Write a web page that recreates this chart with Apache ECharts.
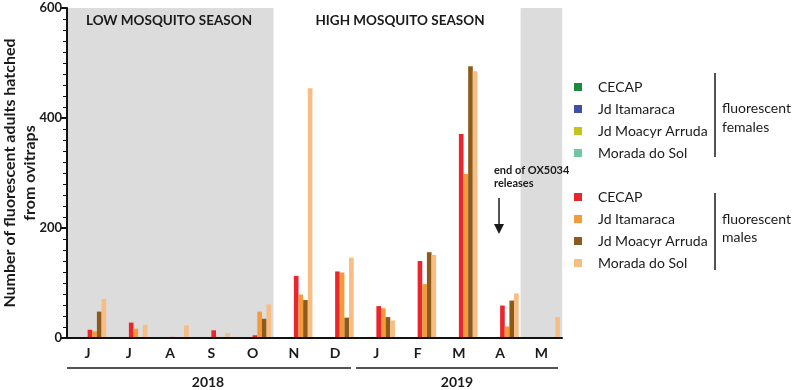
<!DOCTYPE html>
<html>
<head>
<meta charset="utf-8">
<script src="https://cdn.jsdelivr.net/npm/echarts@6/dist/echarts.min.js"></script>
<style>
  html, body { margin: 0; padding: 0; background: #fff; }
  #chart { width: 796px; height: 390px; }
</style>
</head>
<body>
<div id="chart"></div>
<script>
// months Jun 2018 .. May 2019, shown as their first letter
const months = ["Jun 2018", "Jul 2018", "Aug 2018", "Sep 2018", "Oct 2018", "Nov 2018",
  "Dec 2018", "Jan 2019", "Feb 2019", "Mar 2019", "Apr 2019", "May 2019"];
const sites = ["CECAP", "Jd Itamaraca", "Jd Moacyr Arruda", "Morada do Sol"];

// fluorescent females (none visible)
const femaleCecap = [0, 0, 0, 0, 0, 0, 0, 0, 0, 0, 0, 0];
const femaleItamaraca = [0, 0, 0, 0, 0, 0, 0, 0, 0, 0, 0, 0];
const femaleMoacyr = [0, 0, 0, 0, 0, 0, 0, 0, 0, 0, 0, 0];
const femaleMorada = [0, 0, 0, 0, 0, 0, 0, 0, 0, 0, 0, 0];

// fluorescent males
const maleCecap = [15, 28, 2, 14, 5, 113, 121, 58, 140, 371, 59, 0];
const maleItamaraca = [12, 17, 0, 2, 48, 79, 119, 54, 98, 298, 21, 0];
const maleMoacyr = [48, 0, 0, 0, 35, 69, 37, 38, 156, 494, 68, 0];
const maleMorada = [71, 24, 23, 9, 61, 454, 146, 32, 151, 485, 81, 38];

// low mosquito season shading (full height of the axis)
const lowSeason = [600, 600, 600, 600, 600, 0, 0, 0, 0, 0, 0, 600];

const yTicks = { min: 0, max: 600, interval: 200 };

const femaleColors = ["#1b8a3c", "#3e4fa6", "#c4c41c", "#6ec6a2"];
const maleColors = ["#e8262b", "#f59a3b", "#8c5b1c", "#f7bd82"];
const femaleData = [femaleCecap, femaleItamaraca, femaleMoacyr, femaleMorada];
const maleData = [maleCecap, maleItamaraca, maleMoacyr, maleMorada];

const font = "Lato";
const femaleNames = sites.map((s) => "f:" + s);
const maleNames = sites.map((s) => "m:" + s);

const series = [
  {
    name: "shade",
    type: "bar",
    xAxisIndex: 1,
    data: lowSeason,
    barWidth: "101%",
    silent: true,
    z: 1,
    itemStyle: { color: "#dcdcdc", borderColor: "#dcdcdc", borderWidth: 1 },
  },
];
femaleNames.forEach((n, i) => {
  series.push({
    name: n,
    type: "bar",
    data: femaleData[i],
    barGap: "0%",
    barCategoryGap: "10%",
    itemStyle: { color: femaleColors[i] },
  });
});
maleNames.forEach((n, i) => {
  series.push({
    name: n,
    type: "bar",
    data: maleData[i],
    barGap: "0%",
    barCategoryGap: "10%",
    itemStyle: { color: maleColors[i] },
  });
});

const legendBase = {
  orient: "vertical",
  left: 569,
  itemWidth: 8,
  itemHeight: 8,
  itemGap: 6,
  icon: "rect",
  selectedMode: false,
  formatter: (n) => n.slice(2),
  textStyle: {
    fontFamily: font,
    fontSize: 14,
    color: "#1a1a1a",
    lineHeight: 16,
    padding: [0, 0, 0, 11],
  },
};

const bold = { fontFamily: font, fontWeight: "bold", fill: "#1a1a1a" };
const plain = { fontFamily: font, fontSize: 14, fill: "#1a1a1a", verticalAlign: "middle" };
const ink = { stroke: "#1a1a1a", lineWidth: 1.5 };

const chart = echarts.init(document.getElementById("chart"));
chart.setOption({
  animation: false,
  grid: { left: 67, top: 8, right: 234, bottom: 52, outerBoundsMode: "none", containLabel: false },
  legend: [
    Object.assign({}, legendBase, { data: femaleNames, top: 74 }),
    Object.assign({}, legendBase, { data: maleNames, top: 184 }),
  ],
  xAxis: [
    {
      type: "category",
      data: months,
      z: 5,
      splitLine: { show: false },
      splitArea: { show: false },
      axisLine: { lineStyle: { color: "#111", width: 2 } },
      axisTick: { alignWithLabel: true, length: 5, lineStyle: { color: "#111", width: 2 } },
      axisLabel: {
        formatter: (v) => v[0],
        margin: 8,
        fontFamily: font,
        fontWeight: "bold",
        fontSize: 14,
        color: "#1a1a1a",
      },
    },
    {
      type: "category",
      data: months,
      show: false,
      splitLine: { show: false },
      splitArea: { show: false },
    },
  ],
  yAxis: {
    type: "value",
    min: yTicks.min,
    max: yTicks.max,
    interval: yTicks.interval,
    z: 5,
    name: "Number of fluorescent adults hatched\nfrom ovitraps",
    nameLocation: "middle",
    nameGap: 27,
    nameMoveOverlap: false,
    nameTextStyle: {
      fontFamily: font,
      fontWeight: "bold",
      fontSize: 16,
      color: "#1a1a1a",
      lineHeight: 20,
    },
    axisLine: { show: true, lineStyle: { color: "#111", width: 2 } },
    axisTick: { show: true, length: 6, lineStyle: { color: "#111", width: 2 } },
    minorTick: { show: true, splitNumber: 10, length: 4, lineStyle: { color: "#111", width: 1 } },
    splitLine: { show: false },
    axisLabel: {
      margin: 5,
      fontFamily: font,
      fontWeight: "bold",
      fontSize: 13,
      color: "#1a1a1a",
    },
  },
  graphic: [
    { type: "text", z: 100, style: Object.assign({ x: 169, y: 21, text: "LOW MOSQUITO SEASON", fontSize: 13.5, align: "center", verticalAlign: "middle" }, bold) },
    { type: "text", z: 100, style: Object.assign({ x: 400, y: 21, text: "HIGH MOSQUITO SEASON", fontSize: 13.5, align: "center", verticalAlign: "middle" }, bold) },
    { type: "text", z: 100, style: Object.assign({ x: 494, y: 170, text: "end of OX5034", fontSize: 11, verticalAlign: "middle" }, bold) },
    { type: "text", z: 100, style: Object.assign({ x: 494, y: 183, text: "releases", fontSize: 11, verticalAlign: "middle" }, bold) },
    { type: "line", z: 100, shape: { x1: 499, y1: 198, x2: 499, y2: 228 }, style: ink },
    { type: "polygon", z: 100, shape: { points: [[494, 224], [504, 224], [499, 234]] }, style: { fill: "#1a1a1a" } },
    { type: "line", z: 100, shape: { x1: 715, y1: 73, x2: 715, y2: 157 }, style: ink },
    { type: "line", z: 100, shape: { x1: 715, y1: 193, x2: 715, y2: 270 }, style: ink },
    { type: "text", z: 100, style: Object.assign({ x: 722, y: 108, text: "fluorescent" }, plain) },
    { type: "text", z: 100, style: Object.assign({ x: 722, y: 127, text: "females" }, plain) },
    { type: "text", z: 100, style: Object.assign({ x: 722, y: 219, text: "fluorescent" }, plain) },
    { type: "text", z: 100, style: Object.assign({ x: 722, y: 237, text: "males" }, plain) },
    { type: "line", z: 100, shape: { x1: 67, y1: 368, x2: 351, y2: 368 }, style: ink },
    { type: "line", z: 100, shape: { x1: 356, y1: 368, x2: 558, y2: 368 }, style: ink },
    { type: "text", z: 100, style: Object.assign({ x: 208, y: 382, text: "2018", fontSize: 14, align: "center", verticalAlign: "middle" }, bold) },
    { type: "text", z: 100, style: Object.assign({ x: 457, y: 382, text: "2019", fontSize: 14, align: "center", verticalAlign: "middle" }, bold) },
  ],
  series: series,
});
window.addEventListener("resize", () => {
  chart.resize();
});
</script>
</body>
</html>
